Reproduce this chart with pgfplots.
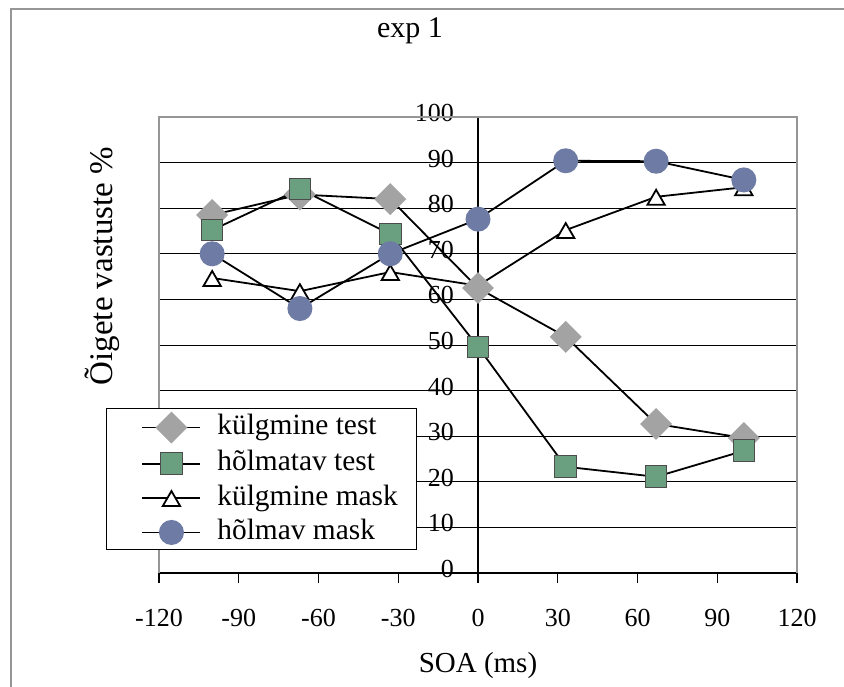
\documentclass[border=0pt]{standalone}
\usepackage{fontspec}
\setmainfont{Liberation Serif}
\usepackage{pgfplots}
\pgfplotsset{compat=1.18}

\definecolor{diagray}{RGB}{163,163,163}
\definecolor{sqgreen}{RGB}{106,160,128}
\definecolor{circblue}{RGB}{109,123,165}
\definecolor{framegray}{RGB}{150,150,150}

\begin{document}
\begin{tikzpicture}
\useasboundingbox (0,0) rectangle (422pt,343pt);
% outer chart frame (right and bottom edges fall outside the page)
\draw[framegray, line width=0.9pt] (5.5pt,-20pt) -- (5.5pt,338.5pt) -- (450pt,338.5pt);

\begin{axis}[
  at={(79.5pt,56.5pt)}, anchor=south west,
  width=319pt, height=228pt, scale only axis,
  xmin=-120, xmax=120, ymin=0, ymax=100,
  axis x line=bottom, axis y line=center,
  axis line style={-, black, line width=0.6pt},
  xtick={-120,-90,...,120},
  ytick={0,10,...,100},
  tick align=outside,
  major tick length=5pt,
  tick style={black, line width=0.6pt},
  hide obscured x ticks=false, hide obscured y ticks=false,
  ymajorgrids,
  major grid style={black, line width=0.5pt},
  /pgf/number format/assume math mode=true,
  ticklabel style={font=\fontsize{13}{15}\selectfont},
  xticklabel style={anchor=north, yshift=-9.5pt},
  yticklabel style={anchor=east, xshift=-3.5pt, yshift=2pt},
  clip=false,
  legend style={
    at={(-0.083,0.362)}, anchor=north west,
    draw=black, line width=0.5pt,
    font=\fontsize{14.7}{16}\selectfont,
    inner xsep=9.5pt, inner ysep=2.2pt,
    row sep=4.2pt,
    nodes={inner sep=0pt, text height=10pt, text depth=3pt},
    cells={anchor=west},
    /tikz/every odd column/.style={column sep=8pt},
  },
  % line sample plus one mark in its middle
  legend image code/.code={
    \path (0pt,0pt);
    \draw[#1] (8pt,0pt) -- (37pt,0pt);
    \draw[#1] plot coordinates {(22.5pt,0pt)};
  },
]

% plot area frame
\draw[framegray, line width=0.9pt]
  (rel axis cs:0,0) -- (rel axis cs:0,1) -- (rel axis cs:1,1) -- (rel axis cs:1,0);

\addplot[black, line width=0.9pt, mark=square*,
  mark options={rotate=45, draw=diagray, fill=diagray, mark size=5.2pt}]
  coordinates {(-100,78.5) (-67,83) (-33,82) (0,62.5) (33,51.8) (67,32.7) (100,29.6)};
\addlegendentry{külgmine test}

\addplot[black, line width=0.9pt, mark=square*,
  mark options={draw=black!70, fill=sqgreen, line width=0.5pt, mark size=5.4pt}]
  coordinates {(-100,75.2) (-67,84.2) (-33,74.3) (0,49.6) (33,23.3) (67,21.1) (100,26.8)};
\addlegendentry{hõlmatav test}

% no triangle is drawn at SOA 0
\addplot[black, line width=0.9pt, mark=triangle*, mark indices={1,2,3,5,6,7},
  mark options={draw=black, fill=white, line width=0.9pt, mark size=5pt, yshift=-1.5pt}]
  coordinates {(-100,64.7) (-67,61.8) (-33,66) (0,63) (33,75.2) (67,82.5) (100,84.6)};
\addlegendentry{külgmine mask}

\addplot[black, line width=0.9pt, mark=*,
  mark options={draw=circblue, fill=circblue, mark size=5.8pt}]
  coordinates {(-100,70) (-67,58) (-33,70) (0,77.6) (33,90.4) (67,90.3) (100,86.2)};
\addlegendentry{hõlmav mask}

\node[font=\fontsize{15}{17}\selectfont, anchor=base]
  at (axis description cs:0.3934,1.1754) {exp 1};
\node[font=\fontsize{14.5}{16}\selectfont, anchor=center]
  at (axis description cs:0.5,-0.2018) {SOA (ms)};
\node[font=\fontsize{16.5}{18}\selectfont, anchor=center, rotate=90]
  at (axis description cs:-0.0893,0.673) {Õigete vastuste \%};
\end{axis}
\end{tikzpicture}
\end{document}
